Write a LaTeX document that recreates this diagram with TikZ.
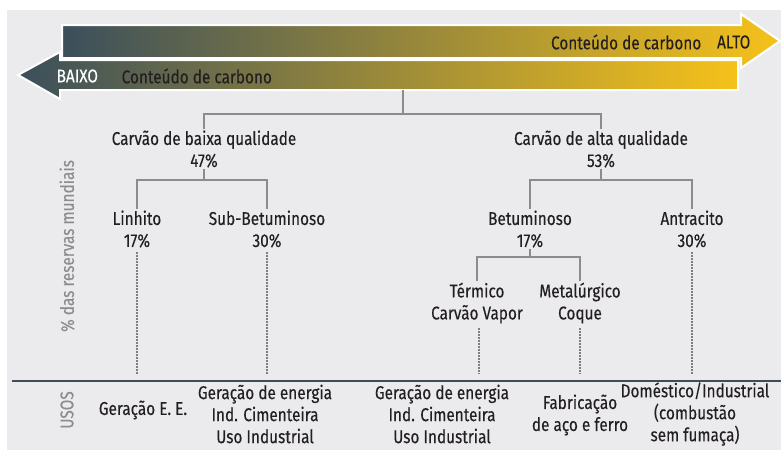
\documentclass[tikz,border=0pt]{standalone}
\usepackage{fontspec}
\setmainfont{Fira Sans}[FakeStretch=0.83, FakeBold=0.25]
\usetikzlibrary{calc}
\definecolor{slate}{HTML}{3B4F5B}
\definecolor{coalgold}{HTML}{F6C21A}
\definecolor{panel}{HTML}{EBEBED}
\definecolor{branchgrey}{HTML}{8C8C8C}
\definecolor{dotgrey}{HTML}{7E7E7E}
\definecolor{ink}{HTML}{231F20}

\tikzset{
    lbl/.style={align=center, text=ink, inner sep=1.5pt, font=\fontsize{18.5}{22}\selectfont},
    axislbl/.style={text=branchgrey, inner sep=0pt, rotate=90, font=\fontsize{18.5}{22}\selectfont},
    branch/.style={draw=branchgrey, line width=1.3pt},
    usage/.style={draw=dotgrey, line width=2.2pt, dash pattern=on 1.8pt off 1.2pt},
    bar/.style={draw=white, line width=2pt, line join=miter}
}

\begin{document}
\begin{tikzpicture}[x=1pt, y=-1pt]
    \useasboundingbox (0,0) rectangle (781,450);
    \fill[white] (0,0) rectangle (781,450);
    \fill[panel] (7,10) rectangle (781,450);

    % carbon content arrows
    \path[bar, left color=slate, right color=coalgold]
        (62,25) -- (741,25) -- (741,14) -- (780,41) -- (741,68) -- (741,58) -- (62,58) -- cycle;
    \path[bar, left color=slate, middle color=coalgold, right color=coalgold]
        (738,60) -- (60,60) -- (60,52) -- (18,75) -- (60,99) -- (60,90) -- (738,90) -- cycle;
    \node[lbl, anchor=east] (alto) at (752,42) {ALTO};
    \node[lbl, anchor=east] (altotxt) at (703,42) {Conteúdo de carbono};
    \node[lbl, anchor=west, text=white] (baixo) at (55,76) {BAIXO};
    \node[lbl, anchor=west] (baixotxt) at (120,76) {Conteúdo de carbono};

    % axis labels
    \node[axislbl] (reservas) at (67,246) {\% das reservas mundiais};
    \node[axislbl] (usos) at (67,410) {USOS};
    \draw[slate, line width=2pt] (12,381) -- (781,381);

    % coal types
    \node[lbl] (baixa) at (204,149) {Carvão de baixa qualidade\\47\%};
    \node[lbl] (alta) at (601,149) {Carvão de alta qualidade\\53\%};
    \node[lbl] (linhito) at (137,229) {Linhito\\17\%};
    \node[lbl] (sub) at (267,229) {Sub-Betuminoso\\30\%};
    \node[lbl] (betum) at (530,229) {Betuminoso\\17\%};
    \node[lbl] (antra) at (692,229) {Antracito\\30\%};
    \node[lbl] (termico) at (477,303) {Térmico\\Carvão Vapor};
    \node[lbl] (metal) at (580,303) {Metalúrgico\\Coque};

    \coordinate (top) at (403,90);
    \coordinate (j0) at (403,114);
    \coordinate (j1) at (204,180);
    \coordinate (j2) at (601,180);
    \coordinate (j3) at (530,257);
    \draw[branch] (top) -- (j0);
    \draw[branch] (j0) -| (baixa.north);
    \draw[branch] (j0) -| (alta.north);
    \draw[branch] (baixa.south) -- (j1);
    \draw[branch] (j1) -| (linhito.north);
    \draw[branch] (j1) -| (sub.north);
    \draw[branch] (alta.south) -- (j2);
    \draw[branch] (j2) -| (betum.north);
    \draw[branch] (j2) -| (antra.north);
    \draw[branch] (betum.south) -- (j3);
    \draw[branch] (j3) -| (termico.north);
    \draw[branch] (j3) -| (metal.north);

    % uses
    \coordinate (base) at (0,374);
    \draw[usage] ([yshift=-3]linhito.south) -- (linhito.south |- base);
    \draw[usage] ([yshift=-3]sub.south) -- (sub.south |- base);
    \draw[usage] ([yshift=-3]antra.south) -- (antra.south |- base);
    \draw[usage] ([xshift=2,yshift=-3]termico.south) -- ([xshift=2]termico.south |- base);
    \draw[usage] ([yshift=-3]metal.south) -- (metal.south |- base);

    \node[lbl] (uso1) at (143,410) {Geração E. E.};
    \node[lbl] (uso2) at (265,414) {Geração de energia\\Ind. Cimenteira\\Uso Industrial};
    \node[lbl] (uso3) at (442,414) {Geração de energia\\Ind. Cimenteira\\Uso Industrial};
    \node[lbl] (uso4) at (580,415) {Fabricação\\de aço e ferro};
    \node[lbl] (uso5) at (695,414) {Doméstico/Industrial\\(combustão\\sem fumaça)};
\end{tikzpicture}
\end{document}
